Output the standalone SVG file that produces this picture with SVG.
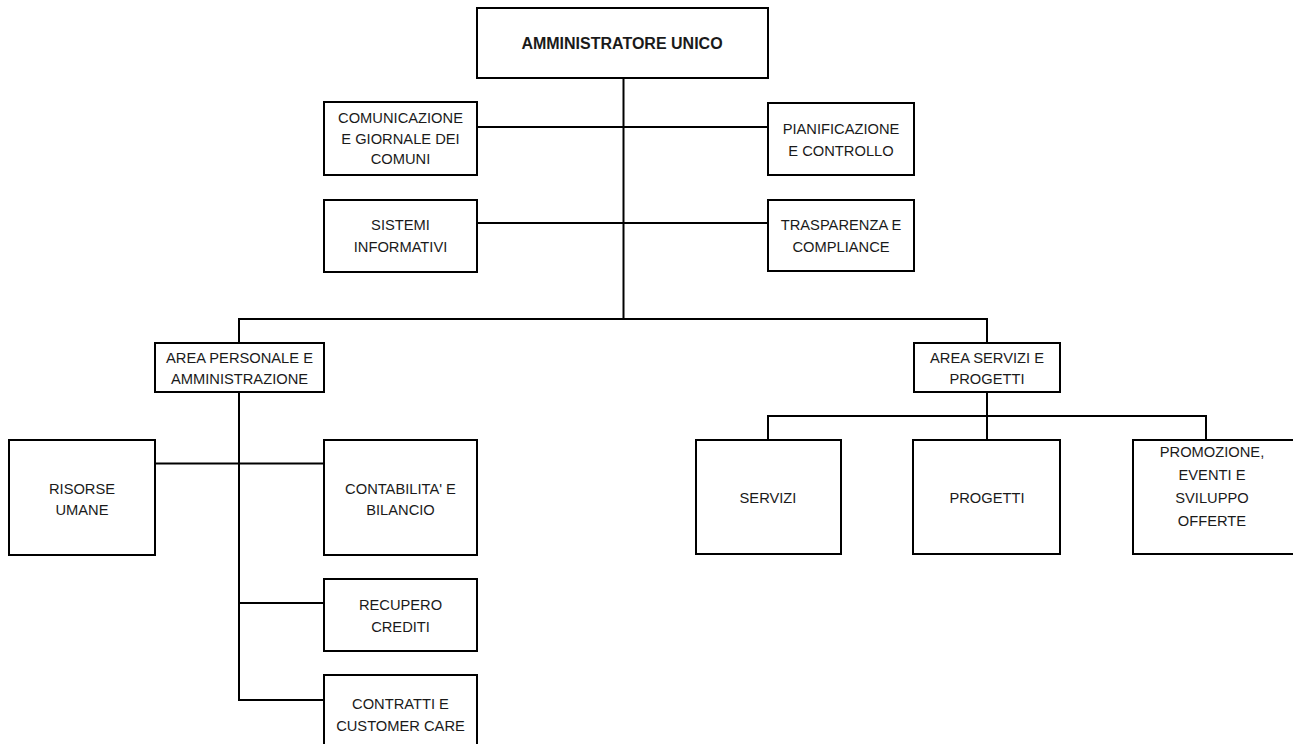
<svg xmlns="http://www.w3.org/2000/svg" width="1293" height="744" viewBox="0 0 1293 744">
<style>
.box{fill:#fff;stroke:#000;stroke-width:2}
.ln{fill:none;stroke:#000;stroke-width:2;stroke-linecap:square;stroke-linejoin:miter}
text{font-family:"Liberation Sans",Arial,sans-serif;font-size:14.7px;fill:#1a1a1a;text-anchor:middle}
.b{font-weight:bold;font-size:16px}
</style>
<rect width="1293" height="744" fill="#fff"/>
<g id="connectors">
<path class="ln" d="M623.5 78V319"/>
<path class="ln" d="M477 127H768"/>
<path class="ln" d="M477 223H768"/>
<path class="ln" d="M239 343V319H987V343"/>
<path class="ln" d="M239 392V700H324"/>
<path class="ln" d="M155 463.5H324"/>
<path class="ln" d="M239 603H324"/>
<path class="ln" d="M987 392V440"/>
<path class="ln" d="M768 440V416H1206V440"/>
</g>
<g id="n-admin"><rect class="box" x="477" y="8" width="291" height="70"/><text class="b" x="622" y="49">AMMINISTRATORE UNICO</text></g>
<g id="n-comunicazione"><rect class="box" x="324" y="102" width="153" height="73"/><text x="400.5" y="123">COMUNICAZIONE</text><text x="400.5" y="143.5">E GIORNALE DEI</text><text x="400.5" y="164">COMUNI</text></g>
<g id="n-sistemi"><rect class="box" x="324" y="200" width="153" height="72"/><text x="400.5" y="230">SISTEMI</text><text x="400.5" y="251.5">INFORMATIVI</text></g>
<g id="n-pianificazione"><rect class="box" x="768" y="103" width="146" height="72"/><text x="841" y="134">PIANIFICAZIONE</text><text x="841" y="156">E CONTROLLO</text></g>
<g id="n-trasparenza"><rect class="box" x="768" y="200" width="146" height="71"/><text x="841" y="230">TRASPARENZA E</text><text x="841" y="252">COMPLIANCE</text></g>
<g id="n-area-personale"><rect class="box" x="155" y="343" width="169" height="49"/><text x="239.5" y="363">AREA PERSONALE E</text><text x="239.5" y="384">AMMINISTRAZIONE</text></g>
<g id="n-area-servizi"><rect class="box" x="914" y="343" width="146" height="49"/><text x="987" y="363">AREA SERVIZI E</text><text x="987" y="384">PROGETTI</text></g>
<g id="n-risorse"><rect class="box" x="9" y="440" width="146" height="115"/><text x="82" y="494">RISORSE</text><text x="82" y="515">UMANE</text></g>
<g id="n-contabilita"><rect class="box" x="324" y="440" width="153" height="115"/><text x="400.5" y="494">CONTABILITA' E</text><text x="400.5" y="515">BILANCIO</text></g>
<g id="n-recupero"><rect class="box" x="324" y="579" width="153" height="72"/><text x="400.5" y="610">RECUPERO</text><text x="400.5" y="632">CREDITI</text></g>
<g id="n-contratti"><rect class="box" x="324" y="675" width="153" height="80"/><text x="400.5" y="709">CONTRATTI E</text><text x="400.5" y="731">CUSTOMER CARE</text></g>
<g id="n-servizi"><rect class="box" x="696" y="440" width="145" height="114"/><text x="768" y="503">SERVIZI</text></g>
<g id="n-progetti"><rect class="box" x="913" y="440" width="147" height="114"/><text x="987" y="503">PROGETTI</text></g>
<g id="n-promozione"><rect class="box" x="1133" y="440" width="170" height="114"/><text x="1212" y="457">PROMOZIONE,</text><text x="1212" y="480">EVENTI E</text><text x="1212" y="503">SVILUPPO</text><text x="1212" y="526">OFFERTE</text></g>
</svg>
